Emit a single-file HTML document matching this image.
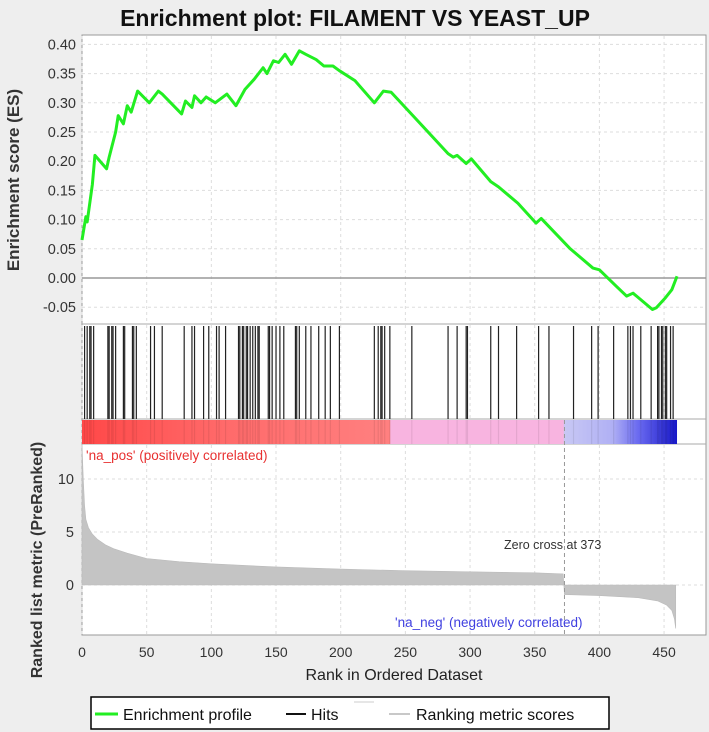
<!DOCTYPE html>
<html><head><meta charset="utf-8"><style>
html,body{margin:0;padding:0;background:#eeeeee;}
svg{display:block;font-family:"Liberation Sans",sans-serif;}
</style></head><body>
<svg id="c" width="709" height="732" viewBox="0 0 709 732">
<text x="355" y="26" text-anchor="middle" font-size="23" font-weight="bold" fill="#111">Enrichment plot: FILAMENT VS YEAST_UP</text>
<rect x="82" y="35" width="624" height="600" fill="#fff" stroke="#999"/>
<g id="g"></g>
<text transform="translate(19,180) rotate(-90)" text-anchor="middle" font-size="17" font-weight="bold" fill="#333">Enrichment score (ES)</text>
<text transform="translate(42,560) rotate(-90)" text-anchor="middle" font-size="16" font-weight="bold" fill="#333">Ranked list metric (PreRanked)</text>
<text x="394" y="680" text-anchor="middle" font-size="16" fill="#222">Rank in Ordered Dataset</text>
<text x="86" y="460" font-size="13.5" fill="#e83030">'na_pos' (positively correlated)</text>
<text x="504" y="549" font-size="12.5" fill="#333">Zero cross at 373</text>
<text x="395" y="627" font-size="13.5" fill="#4040e0">'na_neg' (negatively correlated)</text>
<g>
<rect x="91" y="697" width="518" height="32" fill="#fff" stroke="#000" stroke-width="1.5"/>
<line x1="95" y1="714" x2="118" y2="714" stroke="#22ee22" stroke-width="3"/>
<text x="123" y="720" font-size="16" fill="#111">Enrichment profile</text>
<line x1="286" y1="714" x2="306" y2="714" stroke="#111" stroke-width="2"/>
<text x="311" y="720" font-size="16" fill="#111">Hits</text>
<line x1="354" y1="702" x2="374" y2="702" stroke="#e6e6e6" stroke-width="2"/>
<line x1="389" y1="714" x2="410" y2="714" stroke="#c8c8c8" stroke-width="2"/>
<text x="416" y="720" font-size="16" fill="#111">Ranking metric scores</text>
</g>
</svg>
<script>
const xTicks=[0,50,100,150,200,250,300,350,400,450];
const esTicks=[0.40,0.35,0.30,0.25,0.20,0.15,0.10,0.05,0.00,-0.05];
const metricTicks=[10,5,0];
const esRanks=[0,3,4,8,10,19,21,26,28,32,35,38,43,52,59,62,77,80,85,87,92,96,103,112,119,126,133,140,143,148,152,157,162,168,173,181,187,194,199,211,226,233,239,255,283,287,290,297,301,316,322,337,351,355,377,395,400,413,421,426,441,444,451,456,460];
const esValues=[0.065,0.105,0.096,0.16,0.21,0.187,0.207,0.25,0.278,0.264,0.295,0.284,0.32,0.30,0.32,0.315,0.281,0.303,0.292,0.312,0.30,0.31,0.30,0.315,0.295,0.323,0.34,0.36,0.35,0.372,0.369,0.383,0.366,0.389,0.383,0.374,0.363,0.363,0.355,0.338,0.30,0.32,0.318,0.28,0.213,0.207,0.21,0.196,0.204,0.165,0.156,0.128,0.094,0.102,0.051,0.017,0.014,-0.014,-0.031,-0.026,-0.054,-0.051,-0.034,-0.02,0.003];
const hitRanks=[2,4,6,7,9,20,21,23,24,26,32,33,39,40,42,53,56,62,79,85,87,94,98,104,106,111,121,122,124,125,127,128,130,132,134,136,137,144,145,147,150,153,156,165,166,168,173,177,183,188,192,199,226,229,231,232,234,238,255,283,290,297,298,316,322,336,353,361,380,394,399,411,422,424,426,432,440,445,446,448,449,451,452,455,457];
const metricRanks=[0,1,2,3,5,8,12,18,25,35,50,75,100,150,200,250,300,350,372,373,400,430,445,452,456,458,459];
const metricValues=[13.3,10,7.5,6.2,5.4,4.8,4.3,3.8,3.4,3.0,2.5,2.2,2.0,1.7,1.5,1.35,1.25,1.15,1.05,-0.9,-1.0,-1.2,-1.5,-1.9,-2.4,-3.2,-4.1];
const zeroCross=373;

const NS='http://www.w3.org/2000/svg';
const g=document.getElementById('g');
const X=r=>82+r*1.2935;
const YES=v=>278-v*584;
const YM=v=>585-v*10.6;
function el(t,a,p){const e=document.createElementNS(NS,t);for(const k in a)e.setAttribute(k,a[k]);(p||g).appendChild(e);return e;}

xTicks.forEach(t=>{
  const l=el('line',{x1:X(t),x2:X(t),y1:36,y2:324,stroke:'#ddd','stroke-dasharray':'3,3'});
  
  
  const l2=el('line',{x1:X(t),x2:X(t),y1:325,y2:634,stroke:'#ddd','stroke-dasharray':'3,3'});
  
  
  const tx=el('text',{x:X(t),y:657,'text-anchor':'middle','font-size':'14',fill:'#333'});
  tx.textContent=t;
  
  
});
esTicks.forEach(t=>{
  const l=el('line',{x1:82,x2:706,y1:YES(t),y2:YES(t),stroke:t===0?'#999':'#ddd','stroke-dasharray':t===0?'':'3,3','stroke-width':t===0?1.5:1});
  
  
  const tx=el('text',{x:76,y:YES(t)+5,'text-anchor':'end','font-size':'14.5',fill:'#333'});
  tx.textContent=t.toFixed(2);
  
  
});
metricTicks.forEach(t=>{
  const l=el('line',{x1:82,x2:706,y1:YM(t),y2:YM(t),stroke:'#ddd','stroke-dasharray':'3,3'});
  
  
  const tx=el('text',{x:74,y:YM(t)+5,'text-anchor':'end','font-size':'14.5',fill:'#333'});
  tx.textContent=t;
  
  
});
[324,419,444].forEach(y=>{
  const l=el('line',{x1:82,x2:706,y1:y,y2:y,stroke:'#aaa'});
  
  
});
const es=el('polyline',{points:esRanks.map((r,i)=>X(r)+','+YES(esValues[i])).join(' '),fill:'none',stroke:'#22ee22','stroke-width':3,'stroke-linejoin':'round'});


hitRanks.forEach(r=>{
  const l=el('line',{x1:X(r),x2:X(r),y1:326,y2:419,stroke:'#222','stroke-width':1.2});
  
  
});
const defs=el('defs',{});
const grad=el('linearGradient',{id:'cb',x1:0,x2:1,y1:0,y2:0},defs);
const maxR=460;
[[0,'#ff4848'],[110,'#ff6a6a'],[238,'#ff8080'],[238.5,'#f8b4e0'],[372,'#f8b4e0'],[373,'#c8c8f4'],[410,'#b0b0f4'],[430,'#6a6af0'],[460,'#1818c8']].forEach(s=>{
  el('stop',{offset:(s[0]/maxR),'stop-color':s[1]},grad);
});
const cb=el('rect',{x:X(0),y:420,width:X(maxR)-X(0),height:24,fill:'url(#cb)'});


hitRanks.forEach(r=>{
  const l=el('line',{x1:X(r),x2:X(r),y1:420,y2:444,stroke:'rgba(0,0,0,0.08)','stroke-width':1.2});
  
  
});
let d='M'+X(metricRanks[0])+','+YM(0);
metricRanks.forEach((r,i)=>{d+=' L'+X(r)+','+YM(metricValues[i]);});
d+=' L'+X(metricRanks[metricRanks.length-1])+','+YM(0)+' Z';
const ma=el('path',{d:d,fill:'#c4c4c4',stroke:'#bbb','stroke-width':0.6});


const zl=el('line',{x1:X(zeroCross),x2:X(zeroCross),y1:420,y2:634,stroke:'#999','stroke-dasharray':'4,3'});


</script>
</body></html>
